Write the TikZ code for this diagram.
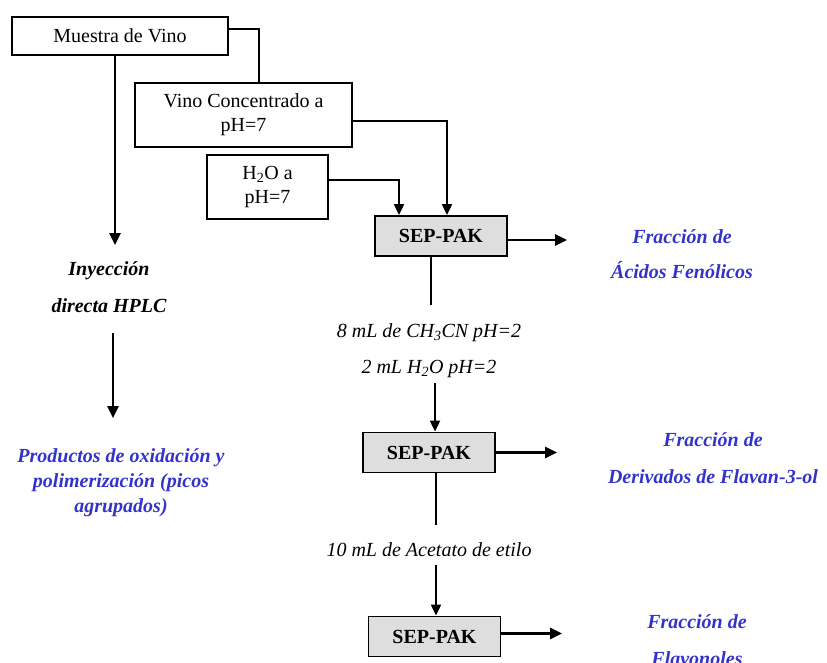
\documentclass[tikz,border=0pt]{standalone}
\usepackage{fontspec}
\setmainfont{Liberation Serif}
\usepackage{xcolor}
\usetikzlibrary{arrows.meta, positioning, calc}
\definecolor{fracblue}{RGB}{51,51,204}

\begin{document}
\begin{tikzpicture}[
  x=1pt, y=-1pt,
  box/.style={draw, line width=1.8pt, align=center, inner sep=0pt,
              font=\fontsize{20}{24}\selectfont},
  sepbox/.style={box, fill=black!13, minimum width=132pt, minimum height=40pt,
                 font=\fontsize{20}{24}\selectfont\bfseries},
  frac/.style={align=center, text=fracblue, font=\fontsize{20}{24}\selectfont\bfseries\itshape},
  note/.style={align=center, font=\fontsize{20}{24}\selectfont\itshape},
  link/.style={line width=1.7pt},
  arr/.style={-{Triangle[length=11pt,width=10pt]}, line width=1.9pt},
  tarr/.style={-{Triangle[length=12pt,width=11pt]}, line width=2.7pt}
]
\useasboundingbox (0,0) rectangle (827,662);

\node[box, minimum width=216pt, minimum height=38pt] (muestra) at (120,36) {Muestra de Vino};
\node[box, minimum width=217pt, minimum height=64pt] (vinoc) at (243.5,115) {Vino Concentrado a\\pH=7};
\node[box, minimum width=121pt, minimum height=64pt] (agua) at (267.5,187) {H\textsubscript{2}O a\\pH=7};
\node[sepbox] (sp1) at (441,236) {SEP-PAK};
\node[sepbox] (sp2) at (429,452.5) {SEP-PAK};
\node[sepbox] (sp3) at (434.5,636.5) {SEP-PAK};

\node[note] (solv1) at (429,351) {8 mL de CH\textsubscript{3}CN pH=2\\[12pt]2 mL H\textsubscript{2}O pH=2};
\node[note] (solv2) at (429,550) {10 mL de Acetato de etilo};
\node[note, font=\fontsize{20}{24}\selectfont\bfseries\itshape] (inyec) at (109,287.5) {Inyección\\[13pt]directa HPLC};
\node[frac] (frac1) at (682,254.5) {Fracción de\\[11pt]Ácidos Fenólicos};
\node[frac] (frac2) at (713,458.5) {Fracción de\\[13pt]Derivados de Flavan-3-ol};
\node[frac] (frac3) at (697,640.5) {Fracción de\\[13pt]Flavonoles};
\node[frac, font=\fontsize{20}{25}\selectfont\bfseries\itshape] (prod) at (121,483) {Productos de oxidación y\\polimerización (picos\\agrupados)};

\coordinate (inyTop) at (115,245);
\coordinate (inyBot) at (113,333);
\coordinate (prodTop) at (113,418);
\coordinate (cut1) at (431,305);
\coordinate (in2) at (435,383);
\coordinate (cut2) at (436,525);
\coordinate (in3) at (436,565);
\coordinate (out1) at (567,240);
\coordinate (out2) at (557,452.5);
\coordinate (out3) at (562,633.5);

\draw[link] ([yshift=7pt]muestra.east) -| ([xshift=15.5pt]vinoc.north);
\draw[arr] ([yshift=-6pt]vinoc.east) -| ([xshift=6pt]sp1.north);
\draw[arr] ([yshift=7pt]agua.east) -| ([xshift=-42pt]sp1.north);
\draw[tarr] ([xshift=-5pt]muestra.south) -- (inyTop);
\draw[tarr] (inyBot) -- (prodTop);
\draw[tarr] ([yshift=-4pt]sp1.east) -- (out1);
\draw[link] ([xshift=-10pt]sp1.south) -- (cut1);
\draw[arr] (in2) -- ([xshift=6pt]sp2.north);
\draw[tarr] (sp2.east) -- (out2);
\draw[link] ([xshift=7pt]sp2.south) -- (cut2);
\draw[arr] (in3) -- ([xshift=1.5pt]sp3.north);
\draw[tarr] ([yshift=3pt]sp3.east) -- (out3);
\end{tikzpicture}
\end{document}
